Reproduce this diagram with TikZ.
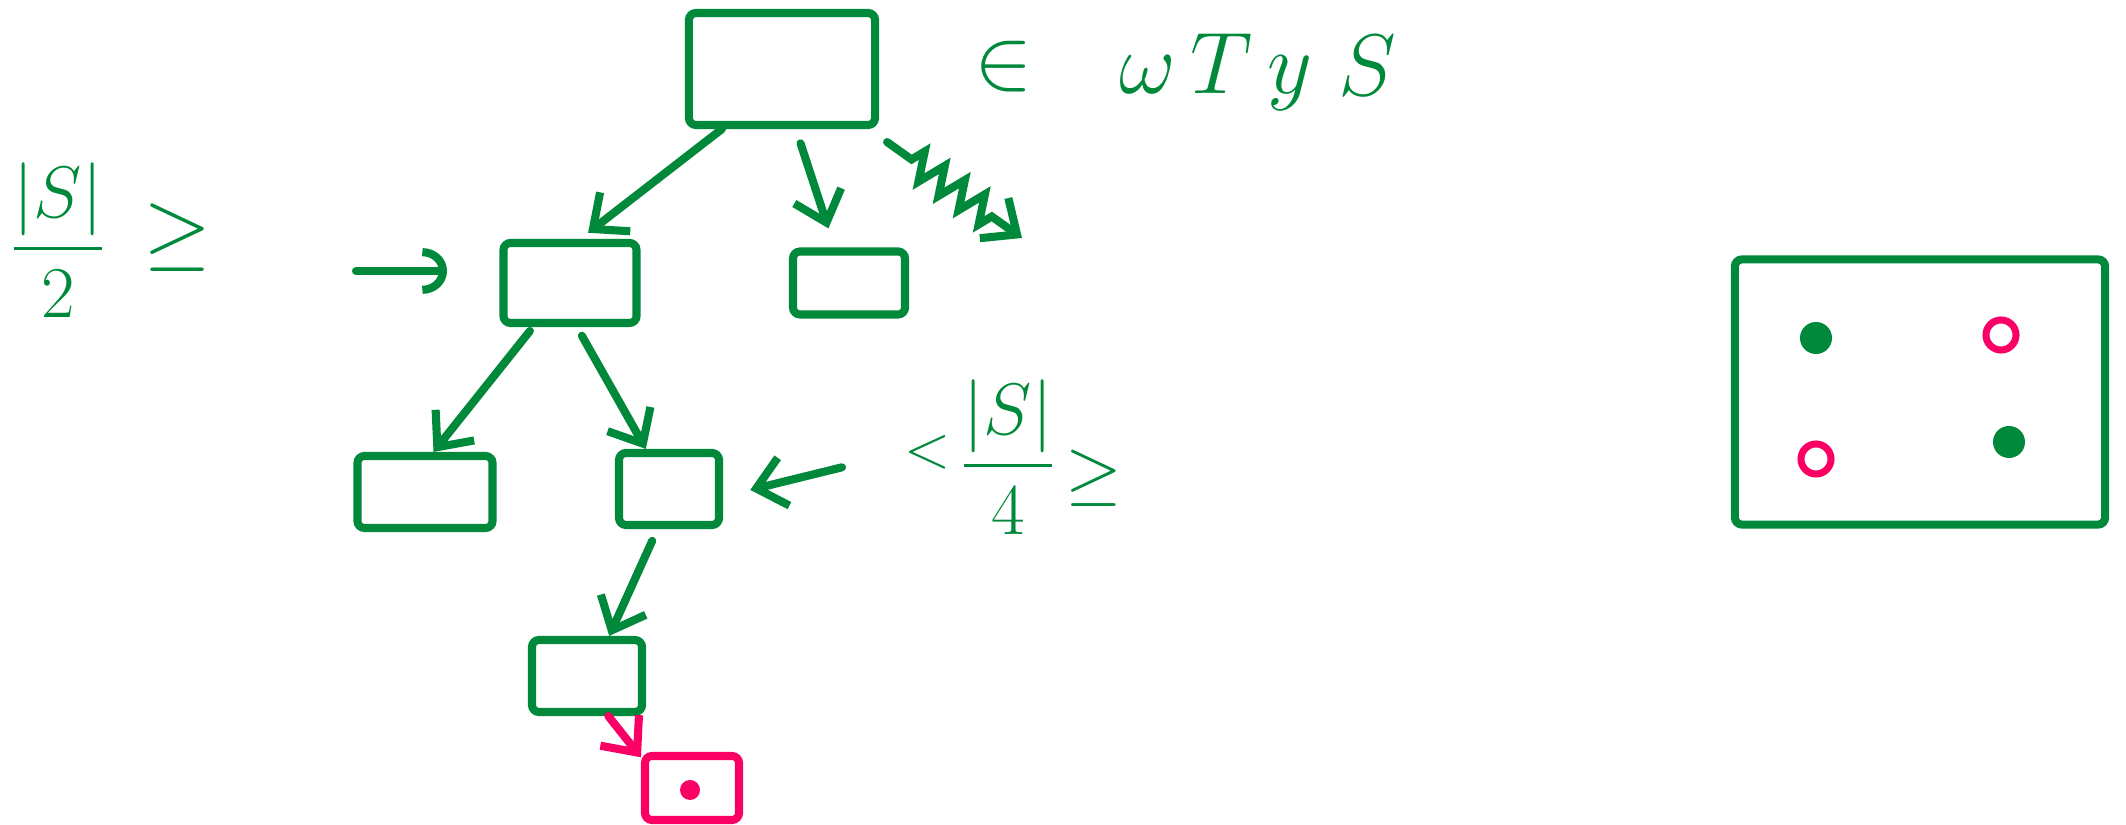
\documentclass[tikz,border=0pt]{standalone}
\usepackage{amsmath}
\usetikzlibrary{arrows.meta,calc,decorations.pathmorphing}

\definecolor{inkgreen}{RGB}{0,137,58}
\definecolor{inkpink}{RGB}{250,0,100}

\begin{document}
\begin{tikzpicture}[x=0.01cm,y=-0.01cm,
  box/.style={draw=inkgreen, line width=2.3pt, rounded corners=2pt, inner sep=0pt},
  arr/.style={draw=inkgreen, line width=2.3pt, line cap=round, -{Straight Barb[length=8pt,width=14pt]}},
  ink/.style={text=inkgreen, inner sep=0pt, font=\fontsize{24}{28}\selectfont},
  dotfull/.style={circle, fill=inkgreen, minimum size=0.32cm, inner sep=0pt},
  dotopen/.style={circle, draw=inkpink, line width=2pt, minimum size=0.3cm, inner sep=0pt}]

\useasboundingbox (0,0) rectangle (2126,825);

% left bound
\node[ink, font=\fontsize{22}{26}\selectfont] (half) at (58,240) {$\displaystyle\frac{|S|}{2}$};
\node[ink] (geqA) at (178,238) {$\geq$};
\coordinate (hookfrom) at (356,271);
\coordinate (hookto) at (447,271);
\draw[arr, -{Arc Barb[length=7pt,width=13pt]}] (hookfrom) -- (hookto);

% tree
\node[box, minimum width=1.86cm, minimum height=1.12cm] (root) at (782,69) {};
\node[box, minimum width=1.33cm, minimum height=0.8cm] (B) at (570,283) {};
\node[box, minimum width=1.12cm, minimum height=0.63cm] (C) at (849,283) {};
\node[box, minimum width=1.35cm, minimum height=0.72cm] (D) at (425,492) {};
\node[box, minimum width=1.0cm, minimum height=0.72cm] (E) at (669,489) {};
\node[box, minimum width=1.1cm, minimum height=0.72cm] (F) at (587,676) {};
\node[box, draw=inkpink, minimum width=0.94cm, minimum height=0.64cm] (G) at (692,788) {};
\node[circle, fill=inkpink, minimum size=0.2cm, inner sep=0pt] (Gdot) at (690,790) {};
\coordinate (wavyend) at (1022,238);

\draw[arr, shorten >=0.1cm] (root.225) -- (B.77);
\draw[arr, shorten <=0.15cm, shorten >=0.2cm] (root.283) -- (C.112);
\draw[arr, decorate, decoration={zigzag, amplitude=4pt, segment length=7pt, pre length=0.3cm, post length=0.25cm}]
  ($(root.south east)+(8,13)$) -- (wavyend);
\draw[arr, shorten <=0.05cm] (B.230) -- (D.78);
\draw[arr, shorten <=0.1cm] (B.279) -- (E.120);
\draw[arr, shorten <=0.13cm] (E.254) -- (F.61);
\draw[arr, draw=inkpink] (F.298) -- (G.149);

% labels on top
\node[ink] (in) at (1004,67) {$\in$};
\node[ink] (wty) at (1216,72) {$\omega\,T\,y$};
\node[ink, font=\fontsize{36}{42}\selectfont] (set) at (1367,66) {$S$};

% lower bound
\node[ink, font=\fontsize{16}{20}\selectfont] (lt) at (928,452) {$<$};
\node[ink, font=\fontsize{20}{24}\selectfont] (quarter) at (1008,457) {$\displaystyle\frac{|S|}{4}$};
\node[ink, font=\fontsize{20}{24}\selectfont] (geqB) at (1094,478) {$\geq$};
\draw[arr, shorten <=0.64cm, shorten >=0.28cm] (lt.west) -- (E.352);

% grid of points
\node[box, minimum width=3.7cm, minimum height=2.65cm] (grid) at (1920,392) {};
\node[dotfull] (pNW) at (1816,338) {};
\node[dotopen] (pNE) at (2001,335) {};
\node[dotopen] (pSW) at (1816,459) {};
\node[dotfull] (pSE) at (2009,442) {};
\end{tikzpicture}
\end{document}
